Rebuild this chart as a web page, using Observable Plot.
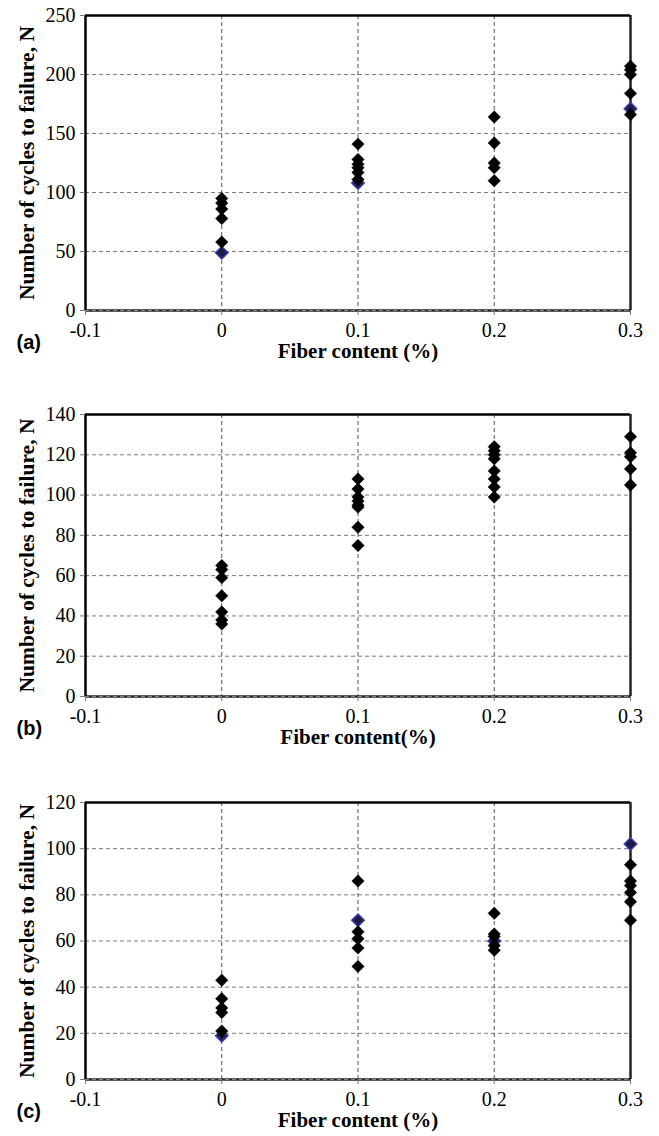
<!DOCTYPE html>
<html>
<head>
<meta charset="utf-8">
<script src="https://cdn.jsdelivr.net/npm/d3@7"></script>
<script src="https://cdn.jsdelivr.net/npm/@observablehq/plot@0.6"></script>
<style>
  html, body { margin: 0; padding: 0; background: #fff; }
  #chart svg { display: block; }
</style>
</head>
<body>
<div id="chart"></div>
<script>
// ---- data ----
const fiberContent = [0, 0.1, 0.2, 0.3];
const xTicks = [-0.1, 0, 0.1, 0.2, 0.3];
const xTickLabels = ["-0.1", "0", "0.1", "0.2", "0.3"];

// panel (a)
const aBlack = [[95, 91, 86, 78, 58], [141, 128, 124, 121, 117, 111], [164, 142, 125, 121, 110], [207, 204, 200, 184, 166]];
const aBlue = [49, 108, null, 171];
const aYTicks = [0, 50, 100, 150, 200, 250];

// panel (b)
const bBlack = [[65, 63, 59, 50, 42, 38, 36], [108, 103, 99, 97, 95, 94, 84, 75], [124, 122, 120, 118, 112, 108, 104, 99], [129, 121, 119, 113, 105]];
const bBlue = [null, null, null, null];
const bYTicks = [0, 20, 40, 60, 80, 100, 120, 140];

// panel (c)
const cBlack = [[43, 35, 31, 29, 21], [86, 64, 61, 57, 49], [72, 63, 62, 58, 56], [93, 86, 84, 81, 77, 69]];
const cBlue = [19, 69, 60, 102];
const cYTicks = [0, 20, 40, 60, 80, 100, 120];

const yLabel = "Number of cycles to failure, N";
const panels = [
  {letter: "(a)", xLabel: "Fiber content (%)", black: aBlack, blue: aBlue, yTicks: aYTicks, height: 370, mt: 15, mb: 60},
  {letter: "(b)", xLabel: "Fiber content(%)", black: bBlack, blue: bBlue, yTicks: bYTicks, height: 380, mt: 44, mb: 54},
  {letter: "(c)", xLabel: "Fiber content (%)", black: cBlack, blue: cBlue, yTicks: cYTicks, height: 386, mt: 52, mb: 57}
];

const serif = "Liberation Serif";
const sans = "Liberation Sans";

for (const p of panels) {
  const blackRows = [];
  p.black.forEach((vals, i) => vals.forEach(v => blackRows.push({x: fiberContent[i], y: v})));
  const blueRows = [];
  p.blue.forEach((v, i) => { if (v != null) blueRows.push({x: fiberContent[i], y: v}); });
  const yMax = p.yTicks[p.yTicks.length - 1];
  const inner = p.yTicks.filter(t => t > 0 && t < yMax);

  const chart = Plot.plot({
    width: 659,
    height: p.height,
    marginLeft: 85,
    marginRight: 29,
    marginTop: p.mt,
    marginBottom: p.mb,
    style: {fontFamily: serif, fontSize: "19px", color: "black", background: "white"},
    x: {domain: [-0.1, 0.3]},
    y: {domain: [0, yMax]},
    marks: [
      Plot.ruleY(inner, {stroke: "#7a7a7a", strokeWidth: 1, strokeDasharray: "4,3"}),
      Plot.ruleX([0, 0.1, 0.2], {stroke: "#555", strokeWidth: 1, strokeDasharray: "4,3"}),
      Plot.ruleY([yMax], {stroke: "black", strokeWidth: 2.5}),
      Plot.ruleX([-0.1], {stroke: "black", strokeWidth: 2.5}),
      Plot.ruleX([0.3], {stroke: "#222", strokeWidth: 2.5}),
      Plot.ruleY([0], {stroke: "#222", strokeWidth: 2.5}),
      Plot.ruleY([0], {stroke: "#888", strokeWidth: 1, strokeDasharray: "4,3"}),
      Plot.axisY({ticks: p.yTicks, tickSize: 5, stroke: "#777", fill: "none", tickFormat: () => "", label: null}),
      Plot.axisX({ticks: xTicks, tickSize: 5, stroke: "#777", fill: "none", tickFormat: () => "", label: null}),
      Plot.text(p.yTicks, {y: d => d, text: d => String(d), frameAnchor: "left", textAnchor: "end", dx: -10, fontSize: 20, fontFamily: serif, fill: "black"}),
      Plot.text(xTicks, {x: d => d, text: (d, i) => xTickLabels[i], frameAnchor: "bottom", lineAnchor: "top", dy: 12, fontSize: 20, fontFamily: serif, fill: "black"}),
      Plot.dot(blueRows, {x: "x", y: "y", symbol: "diamond2", r: 5.6, fill: "#1c1c44", stroke: "#3a3aaa", strokeWidth: 1.5}),
      Plot.dot(blackRows, {x: "x", y: "y", symbol: "diamond2", r: 5.6, fill: "black", stroke: "black", strokeWidth: 0.5}),
      Plot.text([p.xLabel], {text: d => d, frameAnchor: "bottom", dy: 47, fontWeight: "bold", fontSize: 21, fontFamily: serif, fill: "black"}),
      Plot.text([yLabel], {text: d => d, frameAnchor: "left", textAnchor: "middle", dx: -58, rotate: -90, fontWeight: "bold", fontSize: 21.5, fontFamily: serif, fill: "black"}),
      Plot.text([p.letter], {text: d => d, frameAnchor: "bottom-left", dx: -69, dy: 38, textAnchor: "start", fontWeight: "bold", fontSize: 20, fontFamily: sans, fill: "black"})
    ]
  });
  document.getElementById("chart").appendChild(chart);
}
</script>
</body>
</html>
